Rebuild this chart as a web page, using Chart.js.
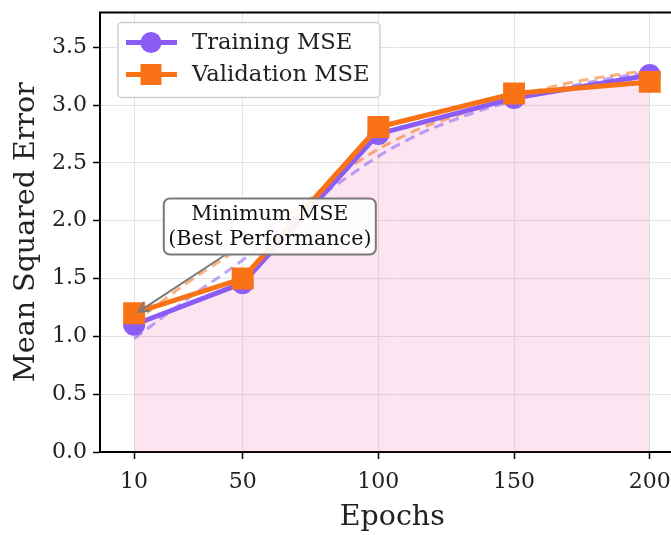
<!DOCTYPE html>
<html>
<head>
<meta charset="utf-8">
<script src="https://cdn.jsdelivr.net/npm/chart.js@4"></script>
<style>
html,body{margin:0;padding:0;background:#fff;overflow:hidden;}
#wrap{width:700px;height:538px;margin-top:-3px;}
</style>
</head>
<body>
<div id="wrap"><canvas id="c" width="700" height="538"></canvas></div>
<script>
// ---- data ----
const epochs = [10, 50, 100, 150, 200];
const trainMSE = [1.10, 1.46, 2.75, 3.06, 3.26];
const valMSE = [1.20, 1.50, 2.81, 3.10, 3.20];
const trendEpochs = [10, 30, 50, 70, 90, 110, 130, 150, 170, 190, 200];
const trainTrend = [0.98, 1.33, 1.66, 2.05, 2.40, 2.69, 2.89, 3.04, 3.16, 3.25, 3.28];
const valTrend = [1.12, 1.47, 1.78, 2.10, 2.47, 2.74, 2.92, 3.07, 3.19, 3.27, 3.30];
const xTicks = [10, 50, 100, 150, 200];
const yTicks = [0, 0.5, 1.0, 1.5, 2.0, 2.5, 3.0, 3.5];
const seriesNames = ['Training MSE', 'Validation MSE'];
const annotationLines = ['Minimum MSE', '(Best Performance)'];
const annotationText = {x: 60, y: 1.95};
const annotationTip = {x: 11.5, y: 1.21};

const PURPLE = '#8b5cf6';
const ORANGE = '#f97316';
const SERIF = '"DejaVu Serif", serif';

const pts = (xs, ys) => xs.map((x, i) => ({x: x, y: ys[i]}));

const frame = {
  id: 'frame',
  afterDraw(chart) {
    const {ctx, chartArea: a} = chart;
    ctx.save();
    ctx.strokeStyle = '#000';
    ctx.lineWidth = 2;
    ctx.beginPath();
    ctx.moveTo(a.left - 1, a.top);
    ctx.lineTo(a.right, a.top);
    ctx.stroke();
    ctx.restore();
  }
};

const legendBox = {
  id: 'legendBox',
  afterDraw(chart) {
    const ctx = chart.ctx;
    const a = chart.chartArea;
    const x0 = a.left + 18, y0 = a.top + 10, w = 262, h = 75;
    ctx.save();
    ctx.fillStyle = 'rgba(255,255,255,0.85)';
    ctx.strokeStyle = '#d0d0d0';
    ctx.lineWidth = 1.5;
    ctx.beginPath();
    ctx.roundRect(x0, y0, w, h, 4);
    ctx.fill();
    ctx.stroke();
    const items = [
      {label: seriesNames[0], color: PURPLE, shape: 'circle', y: y0 + 20},
      {label: seriesNames[1], color: ORANGE, shape: 'rect', y: y0 + 52}
    ];
    items.forEach(it => {
      ctx.strokeStyle = it.color;
      ctx.fillStyle = it.color;
      ctx.lineWidth = 5;
      ctx.beginPath();
      ctx.moveTo(x0 + 8, it.y);
      ctx.lineTo(x0 + 59, it.y);
      ctx.stroke();
      const cx = x0 + 33;
      ctx.beginPath();
      if (it.shape === 'circle') {
        ctx.arc(cx, it.y, 10.5, 0, Math.PI * 2);
      } else {
        ctx.rect(cx - 10.5, it.y - 10.5, 21, 21);
      }
      ctx.fill();
      ctx.fillStyle = '#222';
      ctx.font = '22.7px ' + SERIF;
      ctx.textBaseline = 'middle';
      ctx.textAlign = 'left';
      ctx.fillText(it.label, x0 + 74, it.y + 1);
    });
    ctx.restore();
  }
};

const annotate = {
  id: 'annotate',
  afterDatasetsDraw(chart) {
    const ctx = chart.ctx;
    const xs = chart.scales.x, ys = chart.scales.y;
    const cx = xs.getPixelForValue(annotationText.x);
    const cy = ys.getPixelForValue(annotationText.y);
    const tx = xs.getPixelForValue(annotationTip.x);
    const ty = ys.getPixelForValue(annotationTip.y);
    const w = 212, h = 56;
    ctx.save();
    const sx = cx - 44, sy = cy + h / 2;
    ctx.strokeStyle = '#7a7a7a';
    ctx.lineWidth = 2;
    const ang = Math.atan2(ty - sy, tx - sx);
    const hl = 12;
    ctx.beginPath();
    ctx.moveTo(sx, sy);
    ctx.lineTo(tx - Math.cos(ang) * 3, ty - Math.sin(ang) * 3);
    ctx.stroke();
    ctx.beginPath();
    ctx.moveTo(tx + Math.cos(ang - 0.45) * -hl, ty + Math.sin(ang - 0.45) * -hl);
    ctx.lineTo(tx, ty);
    ctx.lineTo(tx + Math.cos(ang + 0.45) * -hl, ty + Math.sin(ang + 0.45) * -hl);
    ctx.stroke();
    ctx.fillStyle = 'rgba(255,255,255,0.92)';
    ctx.strokeStyle = '#7a7a7a';
    ctx.lineWidth = 2;
    ctx.beginPath();
    ctx.roundRect(cx - w / 2, cy - h / 2, w, h, 6);
    ctx.fill();
    ctx.stroke();
    ctx.fillStyle = '#111';
    ctx.font = '20.7px ' + SERIF;
    ctx.textAlign = 'center';
    ctx.textBaseline = 'middle';
    ctx.fillText(annotationLines[0], cx, cy - 12);
    ctx.fillText(annotationLines[1], cx, cy + 13);
    ctx.restore();
  }
};

new Chart(document.getElementById('c'), {
  type: 'line',
  data: {
    datasets: [
      {
        label: seriesNames[1],
        data: pts(epochs, valMSE),
        borderColor: ORANGE,
        backgroundColor: ORANGE,
        borderWidth: 5,
        pointStyle: 'rect',
        pointRadius: 15.5,
        pointBorderWidth: 0,
        fill: false,
        order: 0
      },
      {
        label: seriesNames[0],
        data: pts(epochs, trainMSE),
        borderColor: PURPLE,
        backgroundColor: 'rgba(236,72,153,0.15)',
        pointBackgroundColor: PURPLE,
        borderWidth: 5,
        pointStyle: 'circle',
        pointRadius: 11,
        pointBorderWidth: 0,
        fill: 'origin',
        order: 1
      },
      {
        label: 'val trend',
        data: pts(trendEpochs, valTrend),
        borderColor: 'rgba(249,115,22,0.55)',
        borderWidth: 3,
        borderDash: [10, 6],
        pointRadius: 0,
        tension: 0.4,
        fill: false,
        order: 2
      },
      {
        label: 'train trend',
        data: pts(trendEpochs, trainTrend),
        borderColor: 'rgba(139,92,246,0.55)',
        borderWidth: 3,
        borderDash: [10, 6],
        pointRadius: 0,
        tension: 0.4,
        fill: false,
        order: 3
      }
    ]
  },
  options: {
    responsive: false,
    animation: false,
    layout: {padding: {top: 9, left: 0, right: 0, bottom: 0}},
    plugins: {
      legend: {display: false},
      tooltip: {enabled: false},
      filler: {drawTime: 'beforeDatasetsDraw'}
    },
    scales: {
      x: {
        type: 'linear',
        min: -2.57,
        max: 212.8,
        afterBuildTicks: s => { s.ticks = xTicks.map(v => ({value: v})); },
        afterFit: s => { s.height = 83; s.paddingLeft = 0; s.paddingRight = 0; },
        ticks: {
          font: {family: SERIF, size: 22},
          color: '#222',
          padding: 10,
          maxRotation: 0,
          callback: v => String(v)
        },
        grid: {color: '#e4e4e4', lineWidth: 1, tickColor: '#000', tickLength: 7, tickWidth: 1.5},
        border: {display: true, color: '#000', width: 2},
        title: {display: true, text: 'Epochs', font: {family: SERIF, size: 28.5}, color: '#222', padding: {top: 6, bottom: 0}}
      },
      y: {
        min: 0,
        max: 3.8,
        afterBuildTicks: s => { s.ticks = yTicks.map(v => ({value: v})); },
        afterFit: s => { s.width = 100; s.paddingTop = 0; s.paddingBottom = 0; },
        ticks: {
          font: {family: SERIF, size: 22},
          color: '#222',
          padding: 6,
          callback: v => Number(v).toFixed(1)
        },
        grid: {color: '#e4e4e4', lineWidth: 1, tickColor: '#000', tickLength: 7, tickWidth: 1.5},
        border: {display: true, color: '#000', width: 2},
        title: {display: true, text: 'Mean Squared Error', font: {family: SERIF, size: 28.5}, color: '#222', padding: {top: 9, bottom: 0}}
      }
    }
  },
  plugins: [frame, annotate, legendBox]
});
</script>
</body>
</html>
